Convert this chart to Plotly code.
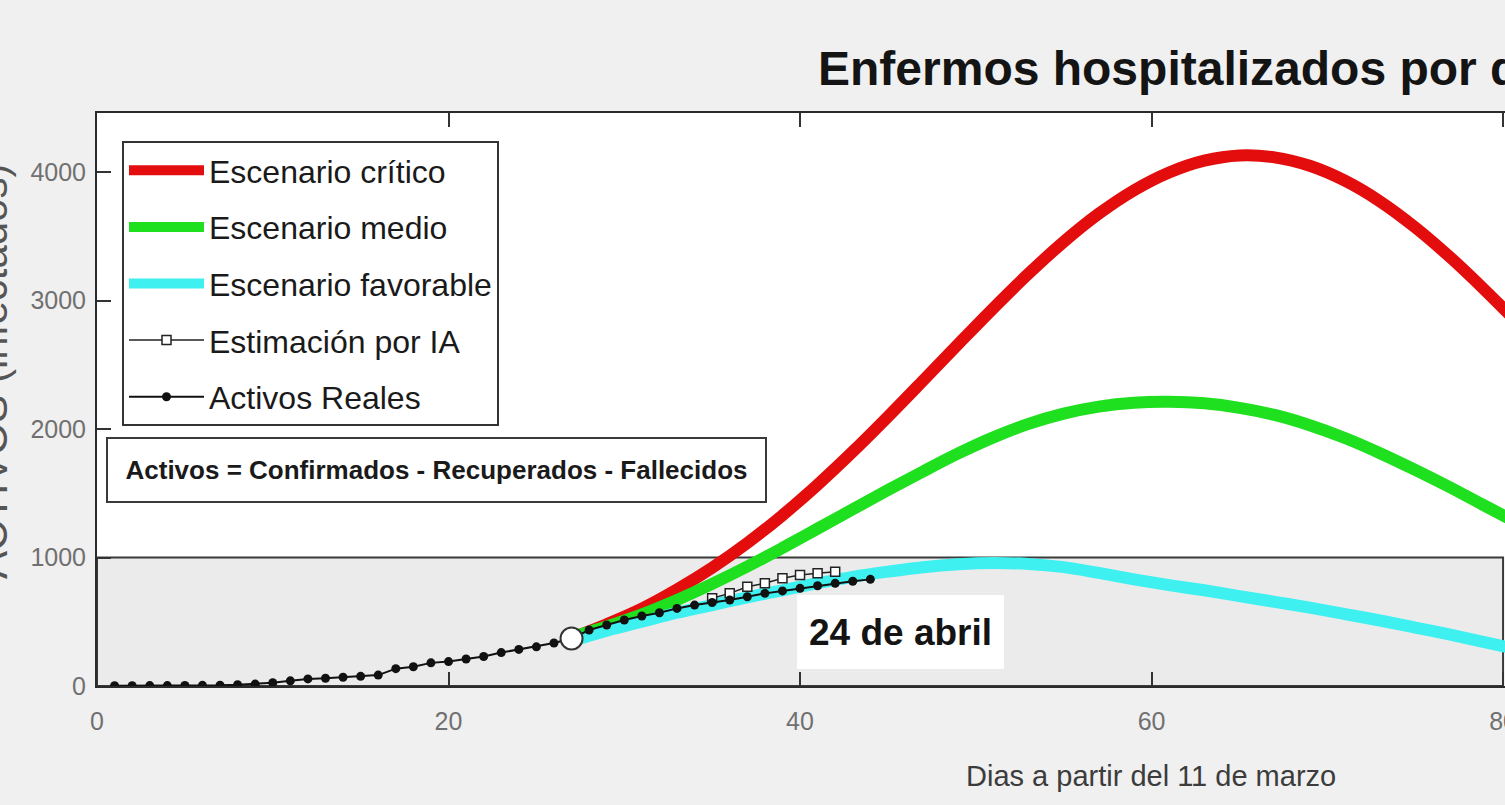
import plotly.graph_objects as go

# ---------------- data ----------------
dias_reales = list(range(1, 45))
activos_reales = [2, 2, 3, 3, 4, 5, 6, 10, 15, 25, 40, 55, 60, 68, 75, 85, 135, 150, 180, 190,
                  210, 230, 260, 285, 305, 335, 370, 436, 475, 514, 545, 570, 604, 630, 650, 669,
                  695, 721, 740, 760, 780, 799, 815, 830]

dias_ia = [35, 36, 37, 38, 39, 40, 41, 42]
estimacion_ia = [683, 721, 773, 800, 838, 864, 878, 889]

dias_escenario = [27.5, 29, 31, 33, 35, 37, 39, 41, 43, 45, 47, 49, 51, 53, 55, 57, 59, 61, 63,
                  65, 67, 69, 71, 73, 75, 77, 79, 81]
escenario_critico = [400, 481, 602, 751, 920, 1113, 1329, 1567, 1824, 2096, 2377, 2661, 2941,
                     3209, 3457, 3676, 3858, 3997, 4089, 4130, 4115, 4049, 3933, 3772, 3570,
                     3336, 3077, 2803]
escenario_medio = [400, 463, 558, 670, 795, 930, 1075, 1225, 1375, 1525, 1670, 1810, 1935, 2040,
                   2120, 2175, 2205, 2212, 2200, 2165, 2110, 2030, 1930, 1812, 1682, 1545, 1400,
                   1256]
escenario_favorable = [370, 430, 500, 570, 630, 690, 745, 800, 850, 890, 925, 948, 958, 950, 925,
                       880, 830, 785, 745, 700, 655, 610, 560, 510, 455, 400, 340, 280]

inicio_x = [27]
inicio_y = [370]

x_ticks = [0, 20, 40, 60, 80]
y_ticks = [0, 1000, 2000, 3000, 4000]

titulo = "Enfermos hospitalizados por d"
etiqueta_x = "Dias a partir del 11 de marzo"
etiqueta_y = "ACTIVOS (infectados)"
nota_formula = "Activos = Confirmados - Recuperados - Fallecidos"
nota_fecha = "24 de abril"

# ---------------- styling ----------------
FONT = "Liberation Sans, Arial, sans-serif"
W, H = 1505, 805
L, R, T, B = 97, 0, 113, 119
XMAX = 80.11
YMAX = 4460

fig = go.Figure()

fig.add_trace(go.Scatter(x=dias_escenario, y=escenario_critico, name="Escenario crítico",
                         legendgroup="g1", mode="lines",
                         line=dict(color="#e30d0d", width=12, shape="spline")))
fig.add_trace(go.Scatter(x=dias_escenario, y=escenario_medio, name="Escenario medio",
                         legendgroup="g2", mode="lines",
                         line=dict(color="#1ee01e", width=12, shape="spline")))
fig.add_trace(go.Scatter(x=dias_escenario, y=escenario_favorable, name="Escenario favorable",
                         legendgroup="g3", mode="lines",
                         line=dict(color="#3ef0f0", width=12, shape="spline")))
fig.add_trace(go.Scatter(x=dias_ia, y=estimacion_ia, name="Estimación por IA",
                         legendgroup="g4", mode="lines+markers",
                         line=dict(color="#222222", width=1.5),
                         marker=dict(symbol="square", size=9, color="white",
                                     line=dict(color="#222222", width=1.5))))
fig.add_trace(go.Scatter(x=dias_reales, y=activos_reales, name="Activos Reales",
                         legendgroup="g5", mode="lines+markers",
                         line=dict(color="#111111", width=2),
                         marker=dict(symbol="circle", size=9, color="#111111")))
fig.add_trace(go.Scatter(x=inicio_x, y=inicio_y, mode="markers", showlegend=False,
                         marker=dict(symbol="circle", size=22, color="white",
                                     line=dict(color="#333333", width=2))))

# gray highlight box (0-1000)
fig.add_shape(type="rect", xref="x", yref="y", x0=0, x1=80, y0=0, y1=1000,
              fillcolor="#ebebeb", line=dict(color="#3a3a3a", width=2), layer="below")

plot_w = W - L - R
plot_h = H - T - B


def paper_x(px):
    return (px - L) / plot_w


def paper_y(py):
    return (H - B - py) / plot_h


fig.add_annotation(text="<b>" + titulo + "</b>", xref="paper", yref="paper",
                   x=paper_x(816), y=paper_y(68),
                   xanchor="left", yanchor="middle", showarrow=False,
                   font=dict(family=FONT, size=48, color="#141414"))
fig.add_annotation(text=etiqueta_x, xref="paper", yref="paper", x=paper_x(1151), y=paper_y(776),
                   xanchor="center", yanchor="middle", showarrow=False,
                   font=dict(family=FONT, size=29, color="#3c3c3c"))
fig.add_annotation(text=etiqueta_y, xref="paper", yref="paper", x=paper_x(-8), y=paper_y(372),
                   xanchor="center", yanchor="middle", showarrow=False, textangle=-90,
                   font=dict(family=FONT, size=42, color="#555555"))
fig.add_annotation(text="<b>" + nota_formula + "</b>", xref="x", yref="y", x=19.3, y=1680,
                   xanchor="center", yanchor="middle", showarrow=False,
                   width=655, height=60, bgcolor="white", bordercolor="#3a3a3a",
                   borderwidth=2, borderpad=1,
                   font=dict(family=FONT, size=26, color="#1a1a1a"))
fig.add_annotation(text="<b>" + nota_fecha + "</b>", xref="x", yref="y", x=45.7, y=420,
                   xanchor="center", yanchor="middle", showarrow=False,
                   width=205, height=72, bgcolor="white", borderwidth=0,
                   font=dict(family=FONT, size=37, color="#141414"))

fig.update_layout(
    width=W, height=H,
    margin=dict(l=L, r=R, t=T, b=B, pad=0, autoexpand=False),
    paper_bgcolor="#f0f0f0", plot_bgcolor="white",
    showlegend=True,
    legend=dict(x=paper_x(122), y=paper_y(141), xanchor="left", yanchor="top",
                bgcolor="white", bordercolor="#333333", borderwidth=2,
                font=dict(family=FONT, size=32, color="#1a1a1a"),
                itemwidth=75, tracegroupgap=12),
    xaxis=dict(range=[0, XMAX], tickvals=x_ticks, ticks="inside", ticklen=14, tickwidth=1.5,
               tickcolor="#333333", showline=True, linewidth=2, linecolor="#2b2b2b",
               mirror="ticks", showgrid=False, zeroline=False, ticklabelstandoff=12,
               ticklabeloverflow="allow", automargin=False,
               tickfont=dict(family=FONT, size=25, color="#707070")),
    yaxis=dict(range=[0, YMAX], tickvals=y_ticks, ticks="inside", ticklen=14, tickwidth=1.5,
               tickcolor="#333333", showline=True, linewidth=2, linecolor="#2b2b2b",
               mirror=False, showgrid=False, zeroline=False, ticklabelstandoff=4,
               ticklabeloverflow="allow", automargin=False,
               tickfont=dict(family=FONT, size=25, color="#707070")),
)

fig.write_html("out.html",
               config={"displayModeBar": False},
               post_script="document.body.style.margin='0px';"
                           "document.body.style.background='#f0f0f0';")
